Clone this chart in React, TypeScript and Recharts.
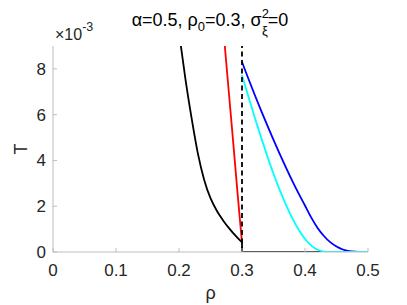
import { LineChart, Line, XAxis, YAxis, ReferenceLine, Label } from 'recharts';

// values of T are in units of 1e-3
const xTicks = [0, 0.1, 0.2, 0.3, 0.4, 0.5];
const yTicks = [0, 2, 4, 6, 8];

const blackRho = [0.203, 0.21, 0.22, 0.23, 0.24, 0.25, 0.26, 0.27, 0.28, 0.29, 0.3];
const blackT = [9.0, 7.6, 5.85, 4.3, 3.15, 2.35, 1.8, 1.38, 1.02, 0.7, 0.42];

const floorRho = [0.3, 0.3, 0.5];
const floorT = [0.42, 0, 0];

const redRho = [0.2727, 0.2795, 0.2865, 0.293, 0.3];
const redT = [9.0, 6.85, 4.65, 2.55, 0.4];

const blueRho = [0.3, 0.31, 0.32, 0.33, 0.34, 0.35, 0.36, 0.37, 0.38, 0.39, 0.4, 0.41, 0.42, 0.43, 0.44, 0.45, 0.46, 0.47, 0.48, 0.49, 0.5];
const blueT = [8.3, 7.58, 6.88, 6.2, 5.54, 4.9, 4.28, 3.68, 3.1, 2.55, 2.03, 1.5, 1.05, 0.7, 0.43, 0.24, 0.11, 0.04, 0.01, 0, 0];

const cyanRho = [0.3, 0.31, 0.32, 0.33, 0.34, 0.35, 0.36, 0.37, 0.38, 0.39, 0.4, 0.41, 0.42, 0.43, 0.44, 0.5];
const cyanT = [7.72, 6.8, 5.9, 5.03, 4.2, 3.42, 2.7, 2.05, 1.47, 0.97, 0.57, 0.28, 0.1, 0.02, 0, 0];

const toPoints = (xs: number[], ys: number[]) => xs.map((x, i) => ({ x, y: ys[i] }));

const FONT = "'Liberation Sans', Arial, Helvetica, sans-serif";
const TEXT = '#262626';
const AXIS = '#bdbdbd';
const TICK_GAP = 12;

function XTick({ x, y, payload }: any) {
  const ay = y - TICK_GAP;
  return (
    <g>
      <line x1={x} x2={x} y1={ay} y2={ay - 4} stroke={AXIS} />
      <text x={x} y={y} dy="0.71em" textAnchor="middle" fill={TEXT} fontSize={17} fontFamily={FONT}>
        {payload.value}
      </text>
    </g>
  );
}

function YTick({ x, y, payload }: any) {
  const ax = x + 7;
  return (
    <g>
      <line x1={ax} x2={ax + 4} y1={y} y2={y} stroke={AXIS} />
      <text x={x} y={y} dy="0.355em" textAnchor="end" fill={TEXT} fontSize={17} fontFamily={FONT}>
        {payload.value}
      </text>
    </g>
  );
}

export default function App() {
  return (
    <div style={{ position: 'absolute', left: 0, top: 0, width: 407, height: 305, background: '#fff' }}>
      <LineChart
        width={407}
        height={305}
        margin={{ top: 46, right: 39, bottom: 23, left: 13 }}
      >
        <XAxis
          type="number"
          dataKey="x"
          domain={[0, 0.5]}
          ticks={xTicks}
          height={30}
          stroke={AXIS}
          tickSize={0}
          tickMargin={TICK_GAP}
          tick={<XTick />}
          allowDataOverflow
        >
          <Label
            value="ρ"
            position="bottom"
            offset={4}
            style={{ fill: TEXT, fontSize: 18, fontFamily: FONT }}
          />
        </XAxis>
        <YAxis
          type="number"
          dataKey="y"
          domain={[0, 9]}
          ticks={yTicks}
          width={40}
          stroke={AXIS}
          tickSize={0}
          tickMargin={7}
          tick={<YTick />}
          allowDataOverflow
        >
          <Label
            value="T"
            angle={-90}
            position="insideLeft"
            offset={8}
            style={{ fill: TEXT, fontSize: 18, fontFamily: FONT, textAnchor: 'middle' }}
          />
        </YAxis>
        <Line data={toPoints(blackRho, blackT)} dataKey="y" type="monotone" stroke="#000" strokeWidth={1.8} dot={false} isAnimationActive={false} />
        <Line data={toPoints(floorRho, floorT)} dataKey="y" type="linear" stroke="#000" strokeWidth={1.8} dot={false} isAnimationActive={false} />
        <Line data={toPoints(redRho, redT)} dataKey="y" type="monotone" stroke="#ff0000" strokeWidth={1.8} dot={false} isAnimationActive={false} />
        <Line data={toPoints(blueRho, blueT)} dataKey="y" type="monotone" stroke="#0000ff" strokeWidth={1.8} dot={false} isAnimationActive={false} />
        <Line data={toPoints(cyanRho, cyanT)} dataKey="y" type="monotone" stroke="#00ffff" strokeWidth={1.8} dot={false} isAnimationActive={false} />
        <ReferenceLine x={0.3} stroke="#000" strokeWidth={1.8} strokeDasharray="5 3.5" />
      </LineChart>
      <svg width={407} height={50} style={{ position: 'absolute', left: 0, top: 0 }}>
        <text x={210} y={26} textAnchor="middle" fill="#000" fontSize={18} fontFamily={FONT}>
          <tspan>α=0.5, ρ</tspan>
          <tspan dy={5} fontSize={13}>0</tspan>
          <tspan dy={-5}>=0.3, σ</tspan>
          <tspan dy={-8} fontSize={13}>2</tspan>
          <tspan dx={-7} dy={17} fontSize={13}>ξ</tspan>
          <tspan dy={-9}>=0</tspan>
        </text>
        <text x={55} y={40} fill={TEXT} fontSize={16} fontFamily={FONT}>
          <tspan>×10</tspan>
          <tspan dy={-9} fontSize={12.5}>-3</tspan>
        </text>
      </svg>
    </div>
  );
}
